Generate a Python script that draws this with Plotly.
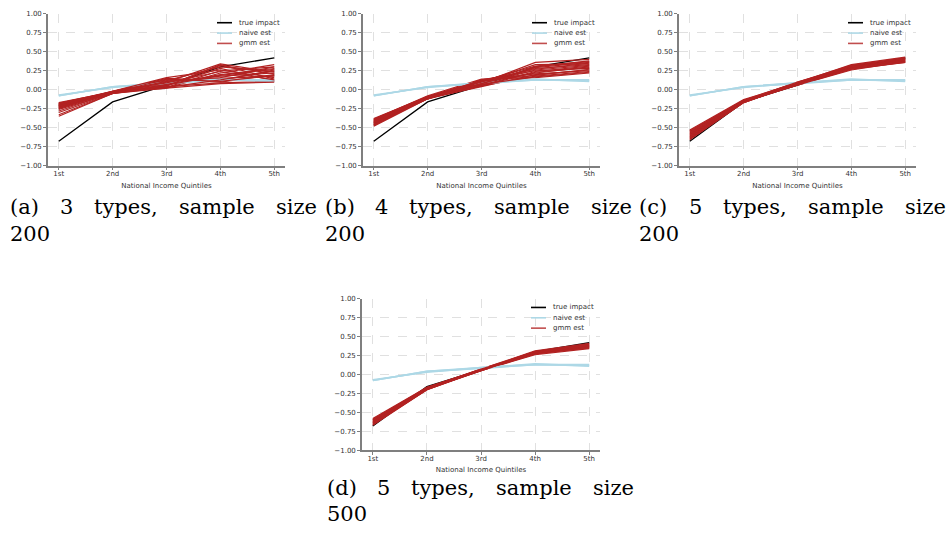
import plotly.graph_objects as go

# ---------------- data ----------------
quintiles = ["1st", "2nd", "3rd", "4th", "5th"]
y_ticks = [1.0, 0.75, 0.5, 0.25, 0.0, -0.25, -0.5, -0.75, -1.0]

true_impact = [-0.68, -0.16, 0.06, 0.30, 0.42]

naive_est = [
    [-0.08, 0.04, 0.08, 0.13, 0.12],
    [-0.07, 0.03, 0.09, 0.14, 0.11],
    [-0.08, 0.04, 0.09, 0.13, 0.13],
]

gmm_a = [
    [-0.18, -0.03, 0.05, 0.33, 0.14],
    [-0.20, -0.02, 0.15, 0.12, 0.26],
    [-0.22, -0.04, 0.03, 0.25, 0.30],
    [-0.19, -0.03, 0.10, 0.18, 0.22],
    [-0.24, -0.04, 0.06, 0.28, 0.12],
    [-0.21, -0.02, 0.13, 0.10, 0.20],
    [-0.26, -0.05, 0.02, 0.22, 0.33],
    [-0.17, -0.03, 0.08, 0.15, 0.18],
    [-0.23, -0.04, 0.12, 0.30, 0.24],
    [-0.25, -0.03, 0.04, 0.09, 0.11],
    [-0.30, -0.05, 0.07, 0.20, 0.28],
    [-0.20, -0.02, 0.16, 0.26, 0.16],
    [-0.33, -0.05, 0.03, 0.13, 0.25],
    [-0.35, -0.05, 0.05, 0.32, 0.21],
    [-0.22, -0.03, 0.11, 0.16, 0.30],
    [-0.18, -0.02, 0.09, 0.24, 0.13],
    [-0.28, -0.04, 0.14, 0.11, 0.19],
    [-0.21, -0.03, 0.06, 0.19, 0.27],
    [-0.24, -0.04, 0.10, 0.34, 0.23],
    [-0.19, -0.03, 0.02, 0.08, 0.10],
]

gmm_b = [
    [-0.38, -0.09, 0.12, 0.27, 0.35],
    [-0.40, -0.10, 0.10, 0.22, 0.30],
    [-0.42, -0.11, 0.07, 0.30, 0.38],
    [-0.44, -0.12, 0.05, 0.18, 0.24],
    [-0.46, -0.10, 0.13, 0.25, 0.28],
    [-0.41, -0.09, 0.09, 0.36, 0.40],
    [-0.43, -0.11, 0.04, 0.20, 0.26],
    [-0.45, -0.12, 0.11, 0.28, 0.33],
    [-0.39, -0.08, 0.14, 0.16, 0.22],
    [-0.47, -0.11, 0.06, 0.24, 0.31],
    [-0.48, -0.12, 0.08, 0.29, 0.36],
    [-0.40, -0.09, 0.12, 0.19, 0.27],
    [-0.44, -0.10, 0.10, 0.33, 0.34],
    [-0.42, -0.11, 0.05, 0.23, 0.29],
    [-0.46, -0.12, 0.13, 0.21, 0.25],
    [-0.39, -0.09, 0.08, 0.26, 0.32],
    [-0.43, -0.10, 0.11, 0.31, 0.37],
    [-0.41, -0.10, 0.07, 0.17, 0.23],
]

gmm_c = [
    [-0.53, -0.13, 0.09, 0.31, 0.40],
    [-0.55, -0.14, 0.08, 0.29, 0.38],
    [-0.57, -0.15, 0.07, 0.27, 0.36],
    [-0.59, -0.15, 0.10, 0.32, 0.42],
    [-0.61, -0.16, 0.08, 0.30, 0.39],
    [-0.63, -0.16, 0.06, 0.26, 0.37],
    [-0.65, -0.17, 0.09, 0.33, 0.43],
    [-0.56, -0.14, 0.07, 0.28, 0.41],
    [-0.60, -0.15, 0.09, 0.31, 0.38],
    [-0.62, -0.16, 0.08, 0.29, 0.40],
    [-0.54, -0.14, 0.10, 0.30, 0.37],
    [-0.58, -0.15, 0.06, 0.27, 0.39],
    [-0.64, -0.17, 0.08, 0.32, 0.41],
    [-0.66, -0.17, 0.07, 0.28, 0.36],
]

gmm_d = [
    [-0.58, -0.17, 0.06, 0.29, 0.38],
    [-0.60, -0.18, 0.06, 0.28, 0.37],
    [-0.62, -0.18, 0.05, 0.27, 0.36],
    [-0.64, -0.19, 0.07, 0.30, 0.40],
    [-0.66, -0.20, 0.06, 0.28, 0.35],
    [-0.59, -0.18, 0.07, 0.31, 0.41],
    [-0.61, -0.19, 0.05, 0.26, 0.34],
    [-0.63, -0.19, 0.06, 0.29, 0.39],
    [-0.65, -0.20, 0.06, 0.27, 0.37],
    [-0.67, -0.20, 0.05, 0.30, 0.38],
    [-0.60, -0.17, 0.07, 0.28, 0.36],
    [-0.62, -0.18, 0.06, 0.29, 0.40],
    [-0.64, -0.19, 0.06, 0.27, 0.35],
    [-0.66, -0.19, 0.05, 0.28, 0.39],
]

legend_labels = ["true impact", "naive est", "gmm est"]
caption_words = [
    ["(a)", "3", "types,", "sample", "size", "200"],
    ["(b)", "4", "types,", "sample", "size", "200"],
    ["(c)", "5", "types,", "sample", "size", "200"],
    ["(d)", "5", "types,", "sample", "size", "500"],
]
x_title = "National Income Quintiles"

# ---------------- layout geometry (pixels) ----------------
W, H = 950, 542
C_TRUE = "black"
C_NAIVE = "#ADD8E6"
C_GMM = "#B22222"
C_GMM_LEG = "rgba(178,34,34,0.8)"
C_SPINE = "#7f7f7f"

panels = [
    dict(gmm=gmm_a, x0=48, x1=285, y0=10, y1=164, dx=0, dy=0),
    dict(gmm=gmm_b, x0=363, x1=600, y0=10, y1=164, dx=315, dy=0),
    dict(gmm=gmm_c, x0=679, x1=916, y0=10, y1=164, dx=629, dy=0),
    dict(gmm=gmm_d, x0=362, x1=600, y0=299, y1=453, dx=317, dy=285),
]
word_x = [8, 58, 92, 177, 274]   # justified caption word positions
line1_y, line2_y = 206, 233


def fx(p):
    return p / W


def fy(p):
    return 1 - p / H


fig = go.Figure()
shapes = []
annotations = []

for i, p in enumerate(panels, start=1):
    xa = "x" if i == 1 else f"x{i}"
    ya = "y" if i == 1 else f"y{i}"
    # true impact
    fig.add_trace(go.Scatter(x=quintiles, y=true_impact, mode="lines",
                             line=dict(color=C_TRUE, width=1.3),
                             name=legend_labels[0], showlegend=False,
                             xaxis=xa, yaxis=ya))
    gm = p["gmm"]
    half = len(gm) // 2
    for row in gm[:half]:
        fig.add_trace(go.Scatter(x=quintiles, y=row, mode="lines",
                                 line=dict(color=C_GMM, width=1.2),
                                 name=legend_labels[2], showlegend=False,
                                 xaxis=xa, yaxis=ya))
    for row in naive_est:
        fig.add_trace(go.Scatter(x=quintiles, y=row, mode="lines",
                                 line=dict(color=C_NAIVE, width=1.6),
                                 name=legend_labels[1], showlegend=False,
                                 xaxis=xa, yaxis=ya))
    for row in gm[half:]:
        fig.add_trace(go.Scatter(x=quintiles, y=row, mode="lines",
                                 line=dict(color=C_GMM, width=1.2),
                                 name=legend_labels[2], showlegend=False,
                                 xaxis=xa, yaxis=ya))

    axis_common = dict(
        showline=True, linecolor=C_SPINE, linewidth=1.6,
        ticks="outside", ticklen=3, tickwidth=1, tickcolor=C_SPINE,
        tickfont=dict(family="DejaVu Sans", size=7, color="#333"),
        showgrid=True, gridcolor="#e0e0e0", gridwidth=0.8, griddash="dash",
        zeroline=False, mirror=False,
    )
    fig.update_layout(**{
        ("xaxis" if i == 1 else f"xaxis{i}"): dict(
            axis_common, domain=[fx(p["x0"]), fx(p["x1"])],
            anchor=ya, type="category", range=[-0.2, 4.2],
            ticklabelstandoff=-3,
            title=dict(text=x_title, standoff=6,
                       font=dict(family="DejaVu Sans", size=7, color="#333")),
        ),
        ("yaxis" if i == 1 else f"yaxis{i}"): dict(
            axis_common, domain=[fy(p["y1"]), fy(p["y0"])],
            anchor=xa, range=[-1, 1], tickvals=y_ticks, tickformat=".2f",
        ),
    })

    # legend (drawn by hand to keep the compact matplotlib look)
    leg_colors = [C_TRUE, C_NAIVE, C_GMM_LEG]
    for k, (lab, col) in enumerate(zip(legend_labels, leg_colors)):
        yy = p["y0"] + 9 + k * 10.5
        shapes.append(dict(type="line", xref="paper", yref="paper",
                           x0=fx(p["x0"] + 169), x1=fx(p["x0"] + 184),
                           y0=fy(yy), y1=fy(yy),
                           line=dict(color=col, width=1.6)))
        annotations.append(dict(text=lab, xref="paper", yref="paper",
                                x=fx(p["x0"] + 189), y=fy(yy),
                                xanchor="left", yanchor="middle",
                                showarrow=False,
                                font=dict(family="DejaVu Sans", size=7,
                                          color="#333")))

    # caption
    words = caption_words[i - 1]
    for w, wx in zip(words[:5], word_x):
        annotations.append(dict(text=w, xref="paper", yref="paper",
                                x=fx(wx + p["dx"]), y=fy(line1_y + p["dy"]),
                                xanchor="left", yanchor="middle",
                                showarrow=False,
                                font=dict(family="DejaVu Serif", size=21,
                                          color="black")))
    annotations.append(dict(text=words[5], xref="paper", yref="paper",
                            x=fx(word_x[0] + p["dx"]), y=fy(line2_y + p["dy"]),
                            xanchor="left", yanchor="middle",
                            showarrow=False,
                            font=dict(family="DejaVu Serif", size=21,
                                      color="black")))

fig.update_layout(
    width=W, height=H,
    margin=dict(l=0, r=0, t=0, b=0),
    paper_bgcolor="white", plot_bgcolor="white",
    showlegend=False,
    shapes=shapes, annotations=annotations,
)

fig.write_html("out.html",
               config={"displayModeBar": False},
               post_script="document.body.style.margin='0';"
                           "document.body.style.padding='0';")
